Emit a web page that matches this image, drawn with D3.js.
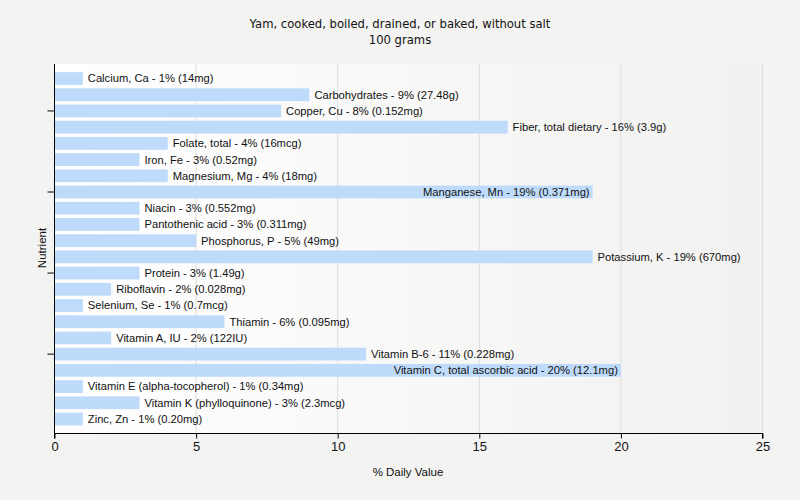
<!DOCTYPE html>
<html lang="en">
<head>
    <meta charset="UTF-8">
    <title>Yam nutrients</title>
    <script src="https://d3js.org/d3.v7.min.js"></script>
    <style>
        body { margin:0; background:#f3f3f2; }
        svg { position:absolute; top:0; left:0; }
        text { font-family: "Liberation Sans", Arial, sans-serif; fill:#111; }
        .title { font-family: "DejaVu Sans", Verdana, sans-serif; }
    </style>
</head>
<body>
<svg width="800" height="500"></svg>
<script>
    var nutrients = ["Calcium, Ca", "Carbohydrates", "Copper, Cu", "Fiber, total dietary",
        "Folate, total", "Iron, Fe", "Magnesium, Mg", "Manganese, Mn", "Niacin",
        "Pantothenic acid", "Phosphorus, P", "Potassium, K", "Protein", "Riboflavin",
        "Selenium, Se", "Thiamin", "Vitamin A, IU", "Vitamin B-6",
        "Vitamin C, total ascorbic acid", "Vitamin E (alpha-tocopherol)",
        "Vitamin K (phylloquinone)", "Zinc, Zn"];
    var percents = [1, 9, 8, 16, 4, 3, 4, 19, 3, 3, 5, 19, 3, 2, 1, 6, 2, 11, 20, 1, 3, 1];
    var amounts = ["14mg", "27.48g", "0.152mg", "3.9g", "16mcg", "0.52mg", "18mg", "0.371mg",
        "0.552mg", "0.311mg", "49mg", "670mg", "1.49g", "0.028mg", "0.7mcg", "0.095mg",
        "122IU", "0.228mg", "12.1mg", "0.34mg", "2.3mcg", "0.20mg"];
    var xTicks = [0, 5, 10, 15, 20, 25];

    var svg = d3.select("svg");
    var pLeft = 54.5, pRight = 762.5, pTop = 64, pBottom = 433.5;

    var x = d3.scaleLinear().domain([0, 25]).range([pLeft, pRight]);
    var y = d3.scaleBand().domain(nutrients).range([pTop + 6.5, pBottom - 6.5]).paddingInner(0.21).paddingOuter(0.1);

    // plot background gradient
    var grad = svg.append("defs").append("linearGradient").attr("id", "bg");
    grad.append("stop").attr("offset", "0%").attr("stop-color", "#ffffff");
    grad.append("stop").attr("offset", "100%").attr("stop-color", "#f1f1f0");
    svg.append("rect").attr("x", pLeft).attr("y", pTop).attr("width", pRight - pLeft).attr("height", pBottom - pTop)
        .attr("fill", "url(#bg)");

    // grid
    svg.append("g").selectAll("line").data(xTicks.slice(1)).enter().append("line")
        .attr("x1", d => x(d)).attr("x2", d => x(d)).attr("y1", pTop).attr("y2", pBottom)
        .attr("stroke", "#dddddd").attr("stroke-width", 1);

    // bars
    svg.append("g").selectAll("rect").data(nutrients).enter().append("rect")
        .attr("x", x(0)).attr("y", d => y(d))
        .attr("width", (d, i) => x(percents[i]) - x(0)).attr("height", y.bandwidth())
        .attr("fill", "#bfdbfb");

    // labels: outside the bar, or inside its end when they would run past the plot
    svg.append("g").selectAll("text").data(nutrients).enter().append("text")
        .text((d, i) => d + " - " + percents[i] + "% (" + amounts[i] + ")")
        .attr("font-size", "11.2px")
        .attr("y", d => y(d) + y.bandwidth() / 2)
        .attr("dy", "0.35em")
        .each(function(d, i) {
            var t = d3.select(this);
            var w = this.getComputedTextLength();
            var end = x(percents[i]);
            if (end + 5 + w > pRight) {
                t.attr("x", end - 3).attr("text-anchor", "end");
            } else {
                t.attr("x", end + 5);
            }
        });

    // axes
    var xAxis = d3.axisBottom(x).tickValues(xTicks).tickSize(5).tickPadding(3);
    var gx = svg.append("g").attr("transform", "translate(0," + pBottom + ")").call(xAxis);
    gx.selectAll("text").attr("font-size", "13px").attr("fill", "#111");
    gx.select(".domain").attr("d", "M" + pLeft + ",5V0H" + pRight + "V5");

    var yTickVals = nutrients.filter((d, i) => i % 5 === 2);
    var yAxis = d3.axisLeft(y).tickValues(yTickVals).tickSize(7).tickFormat("");
    var gy = svg.append("g").attr("transform", "translate(" + pLeft + ",0)").call(yAxis);
    gy.select(".domain").attr("d", "M0," + pTop + "V" + pBottom);

    // titles
    svg.append("text").attr("class", "title").attr("x", 400).attr("y", 28).attr("text-anchor", "middle")
        .attr("font-size", "11.6px").text("Yam, cooked, boiled, drained, or baked, without salt");
    svg.append("text").attr("class", "title").attr("x", 400).attr("y", 44).attr("text-anchor", "middle")
        .attr("font-size", "11.6px").text("100 grams");
    svg.append("text").attr("x", 408).attr("y", 476).attr("text-anchor", "middle")
        .attr("font-size", "11.5px").text("% Daily Value");
    svg.append("text").attr("transform", "translate(46,248) rotate(-90)").attr("text-anchor", "middle")
        .attr("font-size", "11.5px").text("Nutrient");
</script>
</body>
</html>
